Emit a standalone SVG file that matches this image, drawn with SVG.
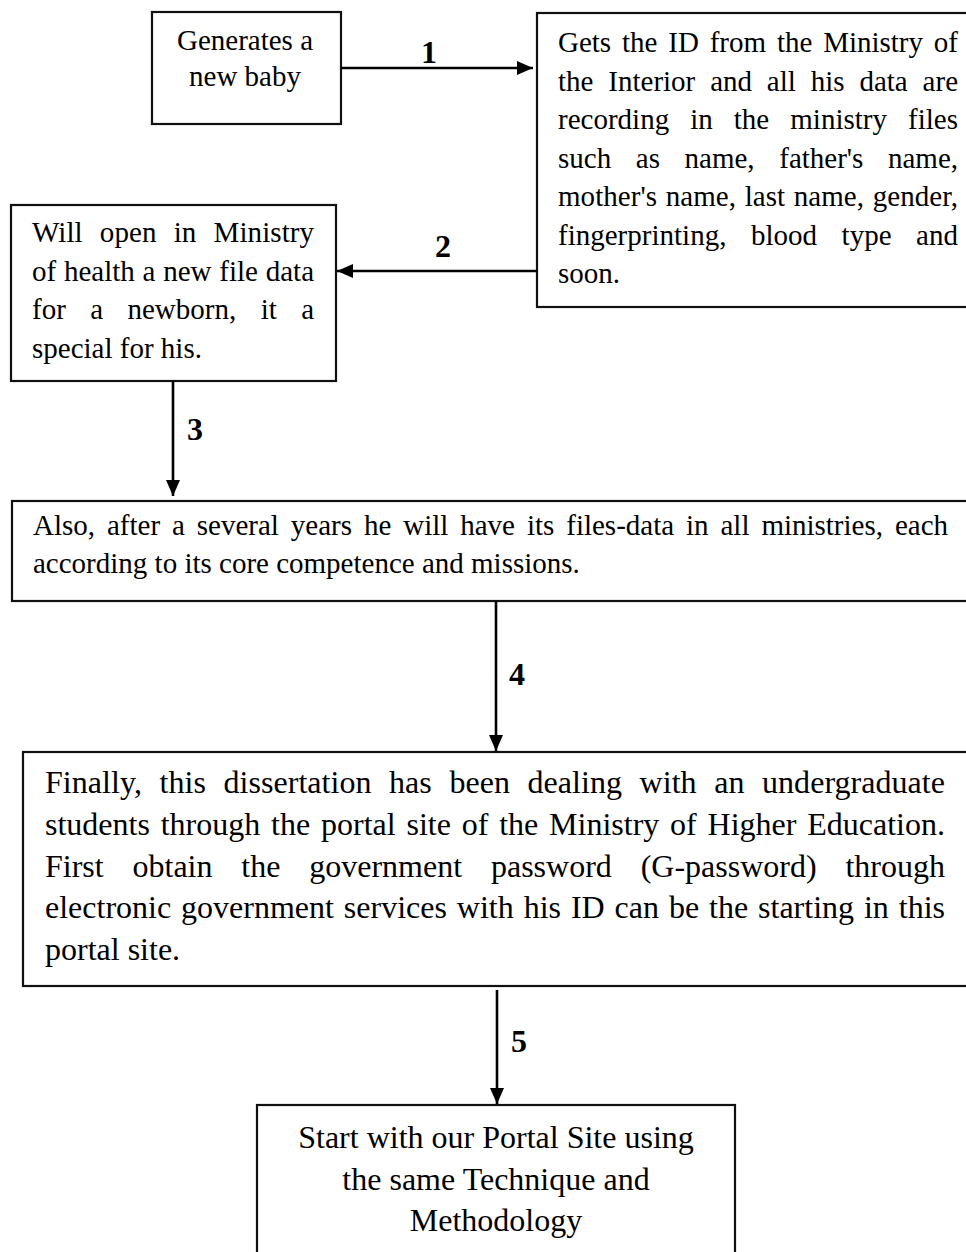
<svg xmlns="http://www.w3.org/2000/svg" width="966" height="1252" viewBox="0 0 966 1252">
  <style>
    .box { fill: #ffffff; stroke: #111111; stroke-width: 2.2; }
    .txt { font-family: "Liberation Serif", "Times New Roman", serif; font-size: 29px; fill: #000000; }
    .big { font-size: 32px; }
    .mid { text-anchor: middle; }
    .num { font-family: "Liberation Serif", "Times New Roman", serif; font-size: 32px; font-weight: bold; fill: #000000; text-anchor: middle; }
    .link { stroke: #000000; stroke-width: 2.6; fill: none; marker-end: url(#head); }
  </style>
  <defs>
    <marker id="head" markerUnits="userSpaceOnUse" markerWidth="16" markerHeight="14" refX="16" refY="7" orient="auto">
      <path d="M0,0 L16,7 L0,14 z" fill="#000000"/>
    </marker>
  </defs>

  <rect width="966" height="1252" fill="#ffffff"/>

  <!-- step 0: birth -->
  <g id="node-birth">
    <rect class="box" x="152" y="12" width="189" height="112"/>
    <text class="txt mid" x="245" y="50">Generates a</text>
    <text class="txt mid" x="245" y="86">new baby</text>
  </g>

  <!-- step 1: national ID record -->
  <g id="node-interior">
    <rect class="box" x="537" y="13" width="440" height="294"/>
    <text class="txt" x="558" y="52" word-spacing="3.6" textLength="400" lengthAdjust="spacing">Gets the ID from the Ministry of</text>
    <text class="txt" x="558" y="90.5" word-spacing="7.6" textLength="400" lengthAdjust="spacing">the Interior and all his data are</text>
    <text class="txt" x="558" y="129" word-spacing="13.8" textLength="400" lengthAdjust="spacing">recording in the ministry files</text>
    <text class="txt" x="558" y="167.5" word-spacing="17.4" textLength="400" lengthAdjust="spacing">such as name, father's name,</text>
    <text class="txt" x="558" y="206" word-spacing="1.4" textLength="400" lengthAdjust="spacing">mother's name, last name, gender,</text>
    <text class="txt" x="558" y="244.5" word-spacing="17.3" textLength="400" lengthAdjust="spacing">fingerprinting, blood type and</text>
    <text class="txt" x="558" y="283">soon.</text>
  </g>

  <!-- step 2: health ministry file -->
  <g id="node-health">
    <rect class="box" x="11" y="205" width="325" height="176"/>
    <text class="txt" x="32" y="242" word-spacing="9.9" textLength="282" lengthAdjust="spacing">Will open in Ministry</text>
    <text class="txt" x="32" y="280.5" word-spacing="0.5" textLength="282" lengthAdjust="spacing">of health a new file data</text>
    <text class="txt" x="32" y="319" word-spacing="17.1" textLength="282" lengthAdjust="spacing">for a newborn, it a</text>
    <text class="txt" x="32" y="357.5">special for his.</text>
  </g>

  <!-- step 3: files in all ministries -->
  <g id="node-ministries">
    <rect class="box" x="12" y="501" width="970" height="100"/>
    <text class="txt" x="33" y="535" word-spacing="4.7" textLength="915" lengthAdjust="spacing">Also, after a several years he will have its files-data in all ministries, each</text>
    <text class="txt" x="33" y="573">according to its core competence and missions.</text>
  </g>

  <!-- step 4: higher education portal -->
  <g id="node-higher-ed">
    <rect class="box" x="23" y="752" width="960" height="234"/>
    <text class="txt big" x="45" y="793" word-spacing="9.5" textLength="900" lengthAdjust="spacing">Finally, this dissertation has been dealing with an undergraduate</text>
    <text class="txt big" x="45" y="834.8" word-spacing="2.8" textLength="900" lengthAdjust="spacing">students through the portal site of the Ministry of Higher Education.</text>
    <text class="txt big" x="45" y="876.6" word-spacing="20.8" textLength="900" lengthAdjust="spacing">First obtain the government password (G-password) through</text>
    <text class="txt big" x="45" y="918.4" word-spacing="1.9" textLength="900" lengthAdjust="spacing">electronic government services with his ID can be the starting in this</text>
    <text class="txt big" x="45" y="960.2">portal site.</text>
  </g>

  <!-- step 5: our portal -->
  <g id="node-portal">
    <rect class="box" x="257" y="1105" width="478" height="170"/>
    <text class="txt big mid" x="496" y="1148">Start with our Portal Site using</text>
    <text class="txt big mid" x="496" y="1189.5">the same Technique and</text>
    <text class="txt big mid" x="496" y="1231">Methodology</text>
  </g>

  <!-- numbered connectors -->
  <g id="connectors">
    <line class="link" x1="341" y1="68" x2="533" y2="68"/>
    <line class="link" x1="537" y1="271" x2="337" y2="271"/>
    <line class="link" x1="173" y1="381" x2="173" y2="496"/>
    <line class="link" x1="496" y1="601" x2="496" y2="751"/>
    <line class="link" x1="497" y1="990" x2="497" y2="1104"/>
    <text class="num" x="429" y="63">1</text>
    <text class="num" x="443" y="257">2</text>
    <text class="num" x="195" y="440">3</text>
    <text class="num" x="517" y="685">4</text>
    <text class="num" x="519" y="1052">5</text>
  </g>
</svg>
